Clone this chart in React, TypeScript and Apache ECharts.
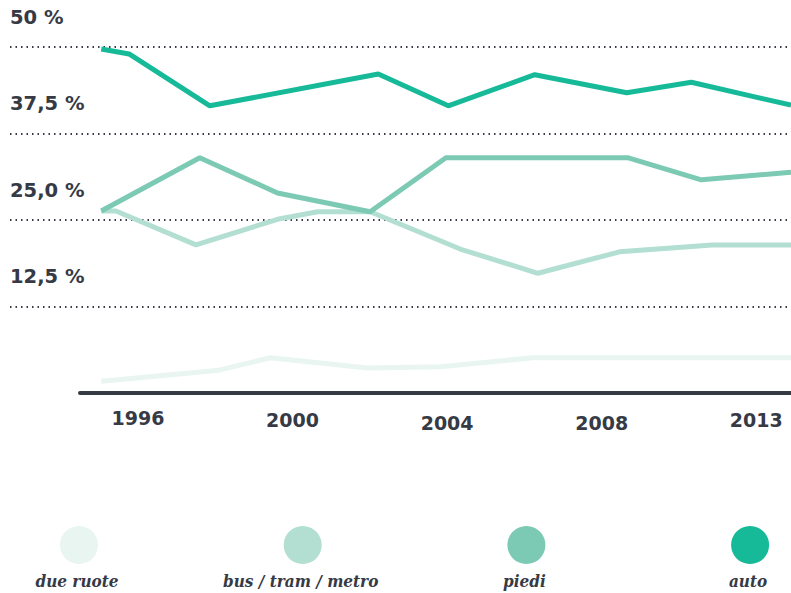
import React, { useEffect, useRef } from "react";
import * as echarts from "echarts";

const seriesNames = ["due ruote", "bus / tram / metro", "piedi", "auto"];
const seriesColors = ["#e8f5f0", "#b3dfd2", "#7ccab3", "#16b998"];

const dueRuote: [number, number][] = [
  [1995.05, 1.7], [1995.48, 1.9], [1998.09, 3.3], [1999.43, 5.1],
  [2001.94, 3.6], [2003.82, 3.8], [2006.22, 5.1], [2012.9, 5.1],
];
const busTramMetro: [number, number][] = [
  [1995.05, 26.3], [1995.43, 26.3], [1997.5, 21.4], [1999.61, 25.1],
  [2000.65, 26.2], [2002.01, 26.2], [2004.34, 20.8], [2006.35, 17.3],
  [2008.46, 20.4], [2010.86, 21.4], [2012.9, 21.4],
];
const piedi: [number, number][] = [
  [1995.05, 26.3], [1997.6, 34.0], [1999.61, 28.9], [2002.01, 26.2],
  [2003.97, 34.0], [2008.67, 34.0], [2010.58, 30.8], [2012.9, 31.9],
];
const auto: [number, number][] = [
  [1995.05, 49.7], [1995.77, 49.0], [1997.86, 41.5], [2002.22, 46.1],
  [2004.03, 41.5], [2006.27, 46.0], [2008.65, 43.4], [2010.32, 44.9],
  [2012.9, 41.6],
];

const xTickValues = [1996, 2000, 2004, 2008, 2012];
const xTickLabels = ["1996", "2000", "2004", "2008", "2013"];
const yTickLabels: Record<string, string> = {
  "50": "50 %",
  "37.5": "37,5 %",
  "25": "25,0 %",
  "12.5": "12,5 %",
  "0": "",
};

// per-label vertical offset (style only)
const xLabelDrop = [0, 2, 5, 5, 2];

const TEXT = "#363a45";

export default function App() {
  const ref = useRef<HTMLDivElement>(null);
  useEffect(() => {
    document.body.style.margin = "0";
    if (!ref.current) return;
    const chart = echarts.init(ref.current, undefined, { renderer: "svg" });
    const allData = [dueRuote, busTramMetro, piedi, auto];
    const rich: Record<string, any> = {};
    xLabelDrop.forEach((d, i) => {
      rich["r" + i] = {
        fontFamily: "DejaVu Sans",
        fontWeight: "bold",
        fontSize: 19,
        color: TEXT,
        padding: [d, 0, 0, 0],
      };
    });
    const legendX = (i: number) => 79 + i * 223.7;
    const graphic: any[] = [];
    seriesNames.forEach((name, i) => {
      graphic.push({
        type: "circle",
        shape: { cx: legendX(i), cy: 545, r: 19 },
        style: { fill: seriesColors[i] },
      });
      graphic.push({
        type: "text",
        x: legendX(i) - 2,
        y: 581,
        style: {
          text: name,
          fill: TEXT,
          font: "italic bold 17px 'DejaVu Serif Condensed', 'Liberation Serif', serif",
          align: "center",
          verticalAlign: "middle",
        },
      });
    });
    chart.setOption({
      animation: false,
      grid: [
        { left: 10, right: 0, top: 47, bottom: 200 },
        { left: 80, right: 0, top: 47, bottom: 200 },
      ],
      xAxis: [
        { gridIndex: 0, type: "value", min: 0, max: 1, show: false },
        {
          gridIndex: 1,
          type: "value",
          min: 1994.5,
          max: 2012.9,
          axisLine: { show: true, lineStyle: { color: TEXT, width: 4 } },
          axisTick: { show: false },
          splitLine: { show: false },
          axisLabel: {
            customValues: xTickValues,
            margin: 15,
            showMinLabel: true,
            showMaxLabel: true,
            formatter: (v: number) => {
              const i = xTickValues.indexOf(Math.round(v));
              return i >= 0 ? `{r${i}|${xTickLabels[i]}}` : "";
            },
            rich,
          },
        },
      ],
      yAxis: [
        {
          gridIndex: 0,
          type: "value",
          min: 0,
          max: 50,
          interval: 12.5,
          axisLine: { show: false },
          axisTick: { show: false },
          splitLine: {
            show: true,
            showMinLine: false,
            lineStyle: { color: TEXT, width: 2, type: [1.5, 4] },
          },
          axisLabel: {
            inside: true,
            margin: 0,
            align: "left",
            verticalAlign: "bottom",
            padding: [0, 0, 20, 0],
            fontFamily: "DejaVu Sans",
            fontWeight: "bold",
            fontSize: 19.5,
            color: TEXT,
            showMinLabel: false,
            formatter: (v: number) => yTickLabels[String(v)] ?? "",
          },
        },
        { gridIndex: 1, type: "value", min: 0, max: 50, show: false },
      ],
      series: allData.map((d, i) => ({
        name: seriesNames[i],
        type: "line",
        xAxisIndex: 1,
        yAxisIndex: 1,
        data: d,
        symbol: "none",
        lineStyle: { color: seriesColors[i], width: 5 },
        itemStyle: { color: seriesColors[i] },
        z: 2 + i,
      })),
      graphic,
    });
    return () => chart.dispose();
  }, []);
  return <div ref={ref} style={{ width: 791, height: 593 }} />;
}
